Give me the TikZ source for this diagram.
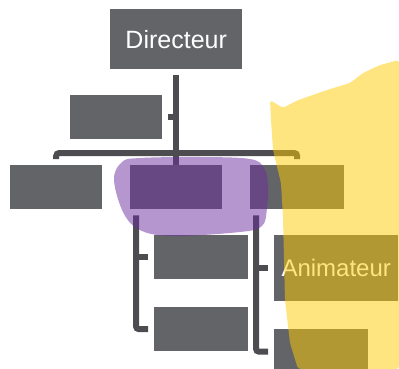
\documentclass[tikz,border=0pt]{standalone}
\usepackage{fontspec}
\setmainfont{Liberation Sans}
\usetikzlibrary{positioning}
\definecolor{boxgray}{RGB}{99,100,104}
\definecolor{linegray}{RGB}{76,76,81}
\definecolor{hlpurple}{RGB}{109,45,158}
\definecolor{hlyellow}{RGB}{255,204,0}
\begin{document}
\begin{tikzpicture}[x=1pt, y=-1pt,
  box/.style={fill=boxgray, inner sep=0pt, anchor=north west, text=white,
    font=\fontsize{24}{28}\selectfont},
  link/.style={draw=linegray, line width=6pt, rounded corners=3pt}]
  \useasboundingbox (0,0) rectangle (399,369);

  % boxes
  \node[box, minimum width=132pt, minimum height=60pt,
    font=\fontsize{25}{30}\selectfont] (dir) at (110,9) {Directeur};
  \node[box, minimum width=92pt, minimum height=44pt] (vice) at (70,95) {};
  \node[box, minimum width=92pt, minimum height=44pt] (chefA) at (10,165) {};
  \node[box, minimum width=92pt, minimum height=44pt] (chefB) at (130,165) {};
  \node[box, minimum width=94pt, minimum height=44pt] (chefC) at (250,165) {};
  \node[box, minimum width=94pt, minimum height=44pt] (subB1) at (154,235) {};
  \node[box, minimum width=94pt, minimum height=44pt] (subB2) at (154,307) {};
  \node[box, minimum width=124pt, minimum height=66pt] (anim) at (274,235) {Animateur};
  \node[box, minimum width=94pt, minimum height=45pt] (subC2) at (274,329) {};

  % links
  \draw[link] ([yshift=-6pt]dir.south) -- (chefB.north);
  \draw[link] ([xshift=6pt]vice.east) -- (vice.east -| dir.south);
  \draw[link] ([yshift=6pt]chefA.north) |- ([yshift=12pt]chefC.north)
    -- ([yshift=6pt]chefC.north);
  \coordinate (bB) at ([shift={(6pt,-6pt)}]chefB.south west);
  \draw[link] (bB) |- ([xshift=-6pt]subB2.west);
  \draw[link] (bB |- subB1.west) -- ([xshift=-6pt]subB1.west);
  \coordinate (bC) at ([shift={(6pt,-6pt)}]chefC.south west);
  \draw[link] (bC) |- ([xshift=-6pt]subC2.west);
  \draw[link] (bC |- anim.west) -- ([xshift=-6pt]anim.west);

  % highlights
  \fill[hlpurple, opacity=0.5] plot[smooth cycle, tension=0.6] coordinates {
    (114,180) (122,162) (140,158) (200,157) (250,159) (264,168) (268,185)
    (267,208) (262,226) (240,232) (175,236) (142,231) (124,214)};
  \fill[hlyellow, opacity=0.5, rounded corners=3pt] (270,100) -- (283,108)
    -- (296,101) -- (307,97) -- (327,90) -- (350,83) -- (363,73) -- (380,65)
    -- (399,60) -- (399,369) -- (298,369) -- (290,343) -- (285,300)
    -- (283,217) -- (281,183) -- (273,150) -- (271,120) -- cycle;
\end{tikzpicture}
\end{document}
